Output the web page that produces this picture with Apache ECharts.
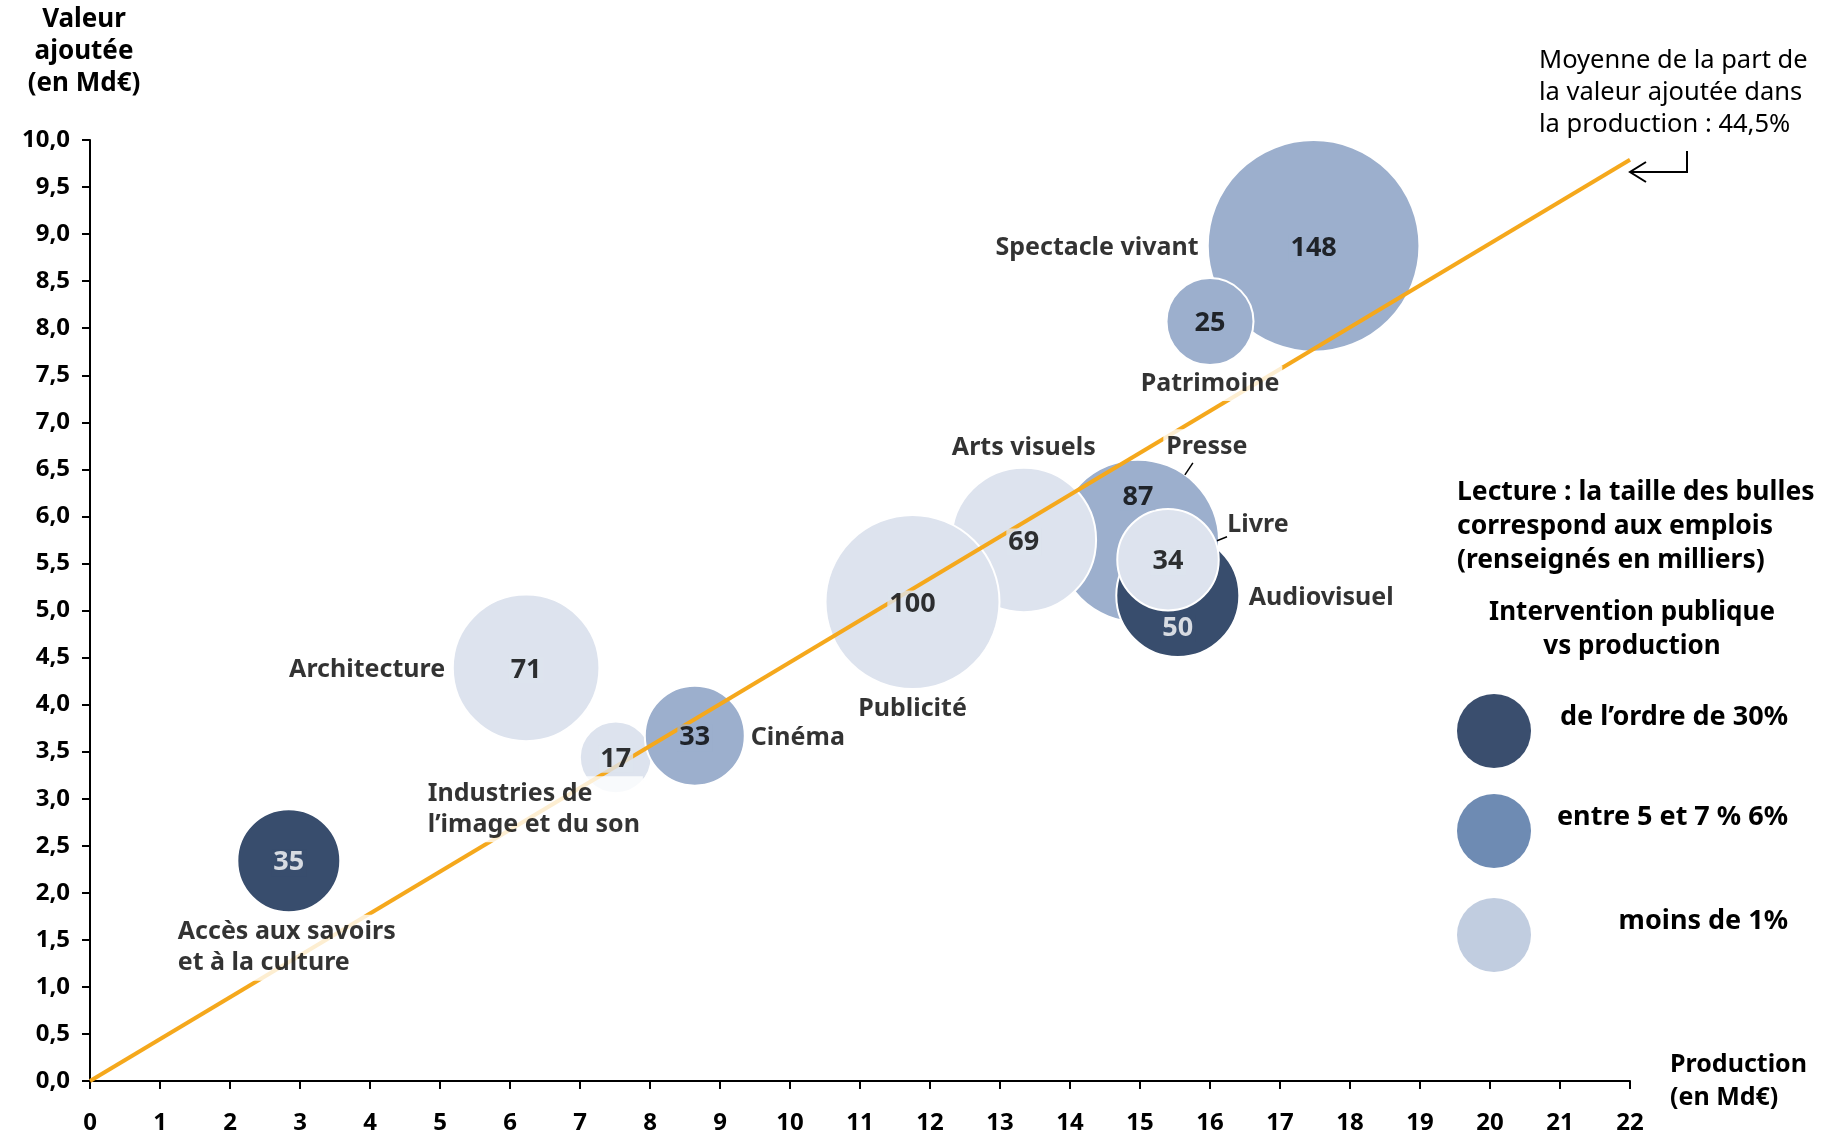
<!DOCTYPE html>
<html>
<head>
<meta charset="utf-8">
<script src="https://cdn.jsdelivr.net/npm/echarts@6/dist/echarts.min.js"></script>
<style>
  html, body { margin: 0; padding: 0; background: #fff; }
  #chart { width: 1825px; height: 1136px; }
</style>
</head>
<body>
<div id="chart"></div>
<script>
// données (ordre = ordre de dessin)
var secteurs = ['Spectacle vivant', 'Patrimoine', 'Presse', 'Arts visuels', 'Audiovisuel', 'Livre',
  'Publicité', 'Architecture', 'Industries de\nl\u2019image et du son', 'Cinéma', 'Accès aux savoirs\net à la culture'];
var production = [17.48, 16.0, 14.97, 13.34, 15.54, 15.40, 11.75, 6.23, 7.51, 8.64, 2.84];
var valeurAjoutee = [8.875, 8.07, 5.74, 5.75, 5.16, 5.54, 5.09, 4.39, 3.44, 3.67, 2.34];
var emplois = [148, 25, 87, 69, 50, 34, 100, 71, 17, 33, 35];
// 0 = de l'ordre de 30%, 1 = entre 5 et 7 %, 2 = moins de 1%
var intervention = [1, 1, 1, 2, 0, 2, 2, 2, 2, 1, 0];
var partMoyenne = 0.445;
var xMax = 22;
var legendeItems = ['de l\u2019ordre de 30%', 'entre 5 et 7 % 6%', 'moins de 1%'];

var FONT = '"Noto Sans", sans-serif';
var bubbleColors = ['#384D6D', '#9CAFCD', '#DDE3EE'];
var legendColors = ['#3A4E6E', '#6E8BB3', '#C1CDE0'];

// placement des étiquettes (px par rapport au centre de la bulle)
var nameStyle = {
  'Spectacle vivant': { align: 'right', offset: [-112, 2] },
  'Patrimoine': { align: 'center', offset: [0, 62] },
  'Presse': { align: 'center', offset: [69, -94], leader: [[47, -66], [55, -78]] },
  'Arts visuels': { align: 'center', offset: [0, -92] },
  'Audiovisuel': { align: 'left', offset: [68, 2] },
  'Livre': { align: 'center', offset: [90, -35], leader: [[49, -19], [59, -23]] },
  'Publicité': { align: 'center', offset: [0, 107] },
  'Architecture': { align: 'right', offset: [-78, 2] },
  'Industries de\nl\u2019image et du son': { align: 'left', offset: [-191, 52] },
  'Cinéma': { align: 'left', offset: [53, 2] },
  'Accès aux savoirs\net à la culture': { align: 'left', offset: [-114, 87] }
};
// décalage des nombres dans les bulles superposées
var numberOffset = { 87: [0, -44], 50: [0, 33] };

function bubbleSize(v) { return 17.4 * Math.sqrt(v); }

var bubbleData = secteurs.map(function (s, i) {
  return {
    value: [production[i], valeurAjoutee[i], emplois[i]],
    itemStyle: { color: bubbleColors[intervention[i]] }
  };
});

var numberData = secteurs.map(function (s, i) {
  var c = bubbleColors[intervention[i]];
  return {
    value: [production[i], valeurAjoutee[i], emplois[i]],
    label: {
      show: true,
      position: 'inside',
      formatter: String(emplois[i]),
      color: intervention[i] === 0 ? '#fff' : '#000',
      backgroundColor: c,
      padding: [0, 2],
      offset: numberOffset[emplois[i]] || [0, 2]
    }
  };
});

var nameData = secteurs.map(function (s, i) {
  var st = nameStyle[s];
  return {
    value: [production[i], valeurAjoutee[i]],
    label: {
      show: true,
      position: 'inside',
      formatter: s,
      align: st.align,
      verticalAlign: 'middle',
      offset: st.offset
    }
  };
});

var chart = echarts.init(document.getElementById('chart'));

function fmt(v) { return v.toFixed(1).replace('.', ','); }

var option = {
  animation: false,
  backgroundColor: '#fff',
  textStyle: { fontFamily: FONT },
  grid: { left: 90, right: 195, top: 140, bottom: 55, containLabel: false },
  xAxis: {
    type: 'value', min: 0, max: xMax, interval: 1,
    splitLine: { show: false },
    axisLine: { onZero: false, lineStyle: { color: '#000', width: 2 } },
    axisTick: { show: true, length: 8, lineStyle: { color: '#000', width: 2 } },
    axisLabel: { margin: 30, color: '#000', fontSize: 24, fontWeight: 'bold', fontFamily: FONT }
  },
  yAxis: {
    type: 'value', min: 0, max: 10, interval: 0.5,
    splitLine: { show: false },
    axisLine: { show: true, onZero: false, lineStyle: { color: '#000', width: 2 } },
    axisTick: { show: true, length: 8, lineStyle: { color: '#000', width: 2 } },
    axisLabel: { margin: 20, color: '#000', fontSize: 24, fontWeight: 'bold', fontFamily: FONT, formatter: fmt }
  },
  series: [
    {
      type: 'scatter',
      z: 2,
      data: bubbleData,
      symbolSize: function (d) { return bubbleSize(d[2]); },
      itemStyle: { borderColor: '#fff', borderWidth: 2, opacity: 1 },
      emphasis: { disabled: true },
      silent: true
    },
    {
      type: 'line',
      z: 3,
      data: [[0, 0], [xMax, xMax * partMoyenne]],
      symbol: 'none',
      lineStyle: { color: '#F5A81C', width: 4 },
      silent: true
    },
    {
      type: 'scatter',
      z: 4,
      data: numberData,
      symbolSize: 1,
      itemStyle: { color: 'rgba(0,0,0,0)' },
      label: { fontSize: 27, fontWeight: 'bold', fontFamily: FONT },
      emphasis: { disabled: true },
      silent: true
    },
    {
      type: 'scatter',
      z: 5,
      data: nameData,
      symbolSize: 1,
      itemStyle: { color: 'rgba(0,0,0,0)' },
      label: {
        fontSize: 25, fontWeight: 'bold', fontFamily: FONT, color: '#000',
        lineHeight: 31, backgroundColor: '#fff', padding: [2, 3]
      },
      emphasis: { disabled: true },
      silent: true
    }
  ]
};
chart.setOption(option);

// textes, légende, flèche et traits de rappel
var g = [];
g.push({ type: 'text', x: 84, y: 4, style: { text: 'Valeur\najoutée\n(en Md€)', fontFamily: FONT, fontSize: 26, fontWeight: 'bold', fill: '#000', lineHeight: 32, textAlign: 'center' } });
g.push({ type: 'text', x: 1670, y: 1048, style: { text: 'Production\n(en Md€)', fontFamily: FONT, fontSize: 25, fontWeight: 'bold', fill: '#000', lineHeight: 33 } });
g.push({ type: 'text', x: 1539, y: 45, style: { text: 'Moyenne de la part de\nla valeur ajoutée dans\nla production : 44,5%', fontFamily: FONT, fontSize: 25.5, fill: '#000', lineHeight: 32 } });
g.push({ type: 'polyline', shape: { points: [[1687, 151], [1687, 172], [1630, 172]] }, style: { stroke: '#000', lineWidth: 2, fill: null } });
g.push({ type: 'polyline', shape: { points: [[1646, 162], [1630, 172], [1646, 182]] }, style: { stroke: '#000', lineWidth: 2, fill: null } });
g.push({ type: 'text', x: 1457, y: 475, style: { text: 'Lecture : la taille des bulles\ncorrespond aux emplois\n(renseignés en milliers)', fontFamily: FONT, fontSize: 26.5, fontWeight: 'bold', fill: '#000', lineHeight: 34 } });
g.push({ type: 'text', x: 1632, y: 596, style: { text: 'Intervention publique\nvs production', fontFamily: FONT, fontSize: 26, fontWeight: 'bold', fill: '#000', lineHeight: 34, textAlign: 'center' } });
var legendY = [731, 831, 935];
legendeItems.forEach(function (t, i) {
  g.push({ type: 'circle', shape: { cx: 1494, cy: legendY[i], r: 37 }, style: { fill: legendColors[i] } });
  g.push({ type: 'text', x: 1788, y: legendY[i] - 14, style: { text: t, fontFamily: FONT, fontSize: 27, fontWeight: 'bold', fill: '#000', textAlign: 'right', textVerticalAlign: 'middle' } });
});
secteurs.forEach(function (s, i) {
  var st = nameStyle[s];
  if (!st.leader) return;
  var c = chart.convertToPixel({ gridIndex: 0 }, [production[i], valeurAjoutee[i]]);
  g.push({ type: 'line', z: 10, shape: { x1: c[0] + st.leader[0][0], y1: c[1] + st.leader[0][1], x2: c[0] + st.leader[1][0], y2: c[1] + st.leader[1][1] }, style: { stroke: '#000', lineWidth: 1.5 } });
});
chart.setOption({ graphic: { elements: g } });

window.addEventListener('resize', function () { chart.resize(); });
</script>
</body>
</html>
